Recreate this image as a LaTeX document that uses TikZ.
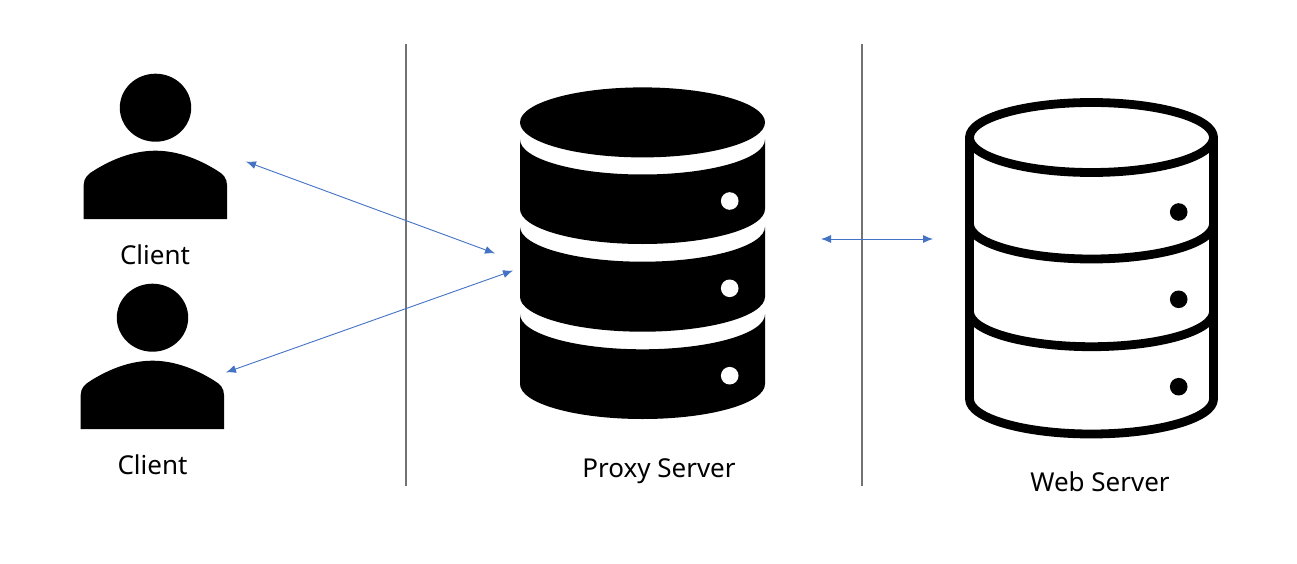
\documentclass[tikz,border=0pt]{standalone}
\usepackage{fontspec}
\setmainfont{Noto Sans}
\usetikzlibrary{arrows.meta}
\tikzset{
  label text/.style={font=\fontsize{26}{30}\selectfont, text=black, inner sep=0pt, anchor=base},
  divider/.style={draw=black!55, line width=1.3pt},
  link/.style={draw=linkblue, line width=0.9pt, {Latex[length=10pt,width=8pt]}-{Latex[length=10pt,width=8pt]}},
  outline/.style={draw=black, line width=8.8pt, line join=round, line cap=round, fill=none}
}
\definecolor{linkblue}{HTML}{4472C4}
% #1 left x, #2 right x, #3 side y: half ellipse (ry 35) from left to right
\newcommand{\LtoR}[3]{.. controls (#1,#3+19.3) and ({(#1+#2)/2-0.5523*(#2-#1)/2},#3+35) .. ({(#1+#2)/2},#3+35) .. controls ({(#1+#2)/2+0.5523*(#2-#1)/2},#3+35) and (#2,#3+19.3) .. (#2,#3)}
\newcommand{\RtoL}[3]{.. controls (#2,#3+19.3) and ({(#1+#2)/2+0.5523*(#2-#1)/2},#3+35) .. ({(#1+#2)/2},#3+35) .. controls ({(#1+#2)/2-0.5523*(#2-#1)/2},#3+35) and (#1,#3+19.3) .. (#1,#3)}
\newcommand{\personicon}{%
  \fill (155.5,107.7) ellipse [x radius=35.7pt, y radius=34pt];
  \fill (83.7,219) -- (83.7,185) .. controls (83.7,178) and (88,174) .. (94,170.5)
    .. controls (114,158) and (135,150.7) .. (155.4,150.7)
    .. controls (176,150.7) and (197,158) .. (217,170.5)
    .. controls (223,174) and (227,178) .. (227,185) -- (227,219) -- cycle;
}
\begin{document}
\begin{tikzpicture}[x=1pt,y=-1pt]
\useasboundingbox (0,0) rectangle (1297,564);
\fill[white] (0,0) rectangle (1297,564);

% dividers
\coordinate (d1a) at (406,44); \coordinate (d1b) at (406,486);
\coordinate (d2a) at (862,44); \coordinate (d2b) at (862,486);
\draw[divider] (d1a) -- (d1b);
\draw[divider] (d2a) -- (d2b);

% clients
\personicon
\begin{scope}[shift={(-3,210)}]
\personicon
\end{scope}
\node[label text] (client1) at (155,264) {Client};
\node[label text] (client2) at (152.5,474) {Client};

% proxy server
\fill (642.5,122.4) ellipse [x radius=122.5pt, y radius=35pt];
\fill (520,139.5) \LtoR{520}{765}{139.5} -- (765,209) \RtoL{520}{765}{209} -- cycle;
\fill (520,226.7) \LtoR{520}{765}{226.7} -- (765,296.7) \RtoL{520}{765}{296.7} -- cycle;
\fill (520,314.3) \LtoR{520}{765}{314.3} -- (765,384) \RtoL{520}{765}{384} -- cycle;
\foreach \yy in {201,288.3,375.7} \fill[white] (729.7,\yy) circle [radius=8.8pt];
\node[label text] (proxy) at (659,477) {Proxy Server};

% web server
\draw[outline] (1091.5,137.5) ellipse [x radius=122pt, y radius=35pt];
\draw[outline] (969.5,137.5) -- (969.5,399) \LtoR{969.5}{1213.5}{399} -- (1213.5,137.5);
\draw[outline] (969.5,224) \LtoR{969.5}{1213.5}{224};
\draw[outline] (969.5,311.7) \LtoR{969.5}{1213.5}{311.7};
\foreach \yy in {212,299.3,386.7} \fill (1178.7,\yy) circle [radius=8.8pt];
\node[label text] (web) at (1100,491) {Web Server};

% connectors
\coordinate (c1end) at (246,161.6); \coordinate (p1end) at (495,253.4);
\coordinate (c2end) at (226,372.4); \coordinate (p2end) at (513,270.6);
\coordinate (p3end) at (821,239); \coordinate (w1end) at (933,239);
\draw[link] (c1end) -- (p1end);
\draw[link] (c2end) -- (p2end);
\draw[link] (p3end) -- (w1end);
\end{tikzpicture}
\end{document}
